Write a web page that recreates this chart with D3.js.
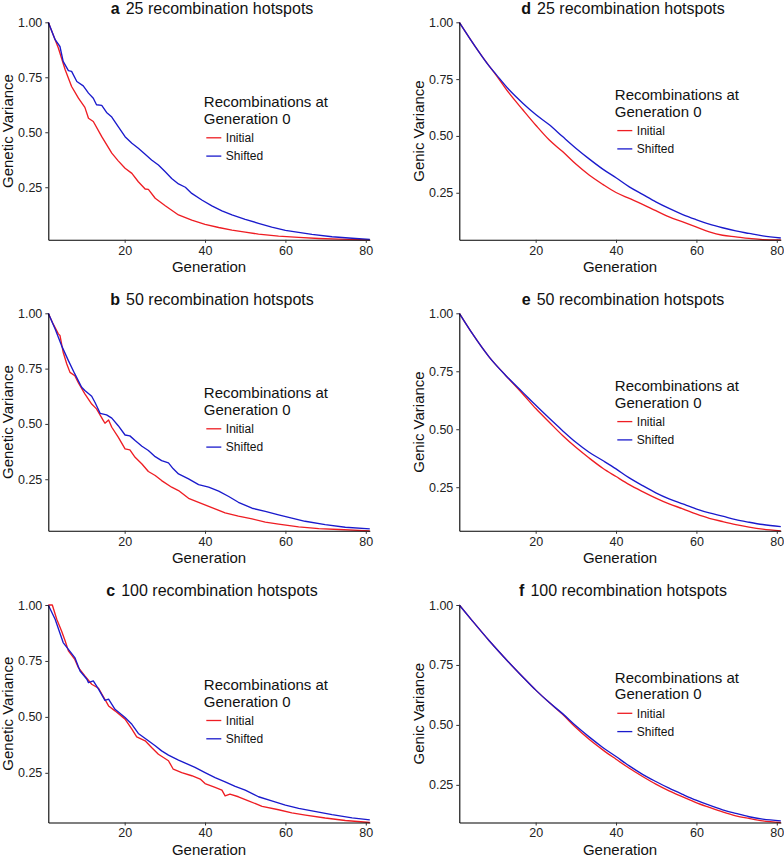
<!DOCTYPE html>
<html>
<head>
<meta charset="utf-8">
<script src="https://cdn.jsdelivr.net/npm/d3@7"></script>
<style>
  body { margin: 0; background: #fff; }
  svg { font-family: "Liberation Sans", Arial, sans-serif; }
</style>
</head>
<body>
<svg id="chart" width="784" height="857"></svg>
<script>
// values: [generation, variance]
var letters = ['a', 'b', 'c', 'd', 'e', 'f'];
var titles = ['25 recombination hotspots', '50 recombination hotspots', '100 recombination hotspots',
              '25 recombination hotspots', '50 recombination hotspots', '100 recombination hotspots'];
var y_labels = ['Genetic Variance', 'Genetic Variance', 'Genetic Variance',
                'Genic Variance', 'Genic Variance', 'Genic Variance'];
var x_ticks = [20, 40, 60, 80];
var y_ticks = [0.25, 0.5, 0.75, 1.0];
var legend_title = ['Recombinations at', 'Generation 0'];
var series_names = ['Initial', 'Shifted'];

var a_initial = [[1,1.0],[3.5,0.883],[5.2,0.784],[6.8,0.708],[8.5,0.655],[10.1,0.613],[11,0.564],[12.2,0.549],[14.3,0.48],[16.8,0.405],[18.4,0.37],[20.1,0.336],[21.8,0.313],[23.4,0.275],[25.1,0.242],[25.9,0.24],[27.6,0.2],[30.1,0.166],[33.4,0.124],[36.7,0.1],[40,0.081],[43.4,0.067],[46.7,0.055],[50,0.046],[53.3,0.037],[58.3,0.028],[63.3,0.022],[68.3,0.017],[73.3,0.014],[81,0.011]];
var a_shifted = [[1,1.0],[2.7,0.921],[3.9,0.89],[4.7,0.822],[6,0.78],[6.8,0.777],[8.1,0.731],[9.7,0.711],[11,0.678],[12.2,0.655],[13,0.625],[14.3,0.622],[15.5,0.59],[16.8,0.569],[18.4,0.526],[20.1,0.48],[21.8,0.45],[23.4,0.427],[25.1,0.40],[26.7,0.374],[28.4,0.351],[30.1,0.32],[31.7,0.29],[33.4,0.265],[35.1,0.25],[36.7,0.222],[39.2,0.192],[41.7,0.165],[44.2,0.143],[46.7,0.124],[50,0.104],[53.3,0.086],[56.6,0.069],[60,0.054],[63.3,0.045],[66.6,0.036],[71.6,0.025],[76.6,0.018],[81,0.013]];
var b_initial = [[1,1.0],[2.2,0.952],[3.5,0.907],[3.9,0.9],[4.7,0.824],[5.6,0.771],[6.4,0.733],[7.6,0.718],[8.5,0.685],[10.1,0.636],[11.8,0.59],[13,0.568],[14.7,0.515],[15.1,0.503],[16,0.518],[16.8,0.485],[18.4,0.44],[20.1,0.387],[21.3,0.383],[22.6,0.349],[24.3,0.319],[25.9,0.285],[27.6,0.267],[29.2,0.244],[31.7,0.214],[33.4,0.199],[35.9,0.164],[38.4,0.146],[41.7,0.122],[45,0.098],[48.3,0.083],[51.7,0.071],[55,0.056],[58.3,0.047],[63.3,0.035],[68.3,0.027],[73.3,0.023],[81,0.017]];
var b_shifted = [[1,1.0],[2.7,0.929],[4.3,0.854],[6,0.786],[7.6,0.726],[9.3,0.666],[10.1,0.651],[11.8,0.625],[12.6,0.598],[13.9,0.548],[15.5,0.541],[16.8,0.526],[18.4,0.492],[20.1,0.45],[21.3,0.446],[22.6,0.425],[24.3,0.399],[25.9,0.38],[27.6,0.352],[29.2,0.334],[30.9,0.324],[32.1,0.297],[33.4,0.274],[35.9,0.252],[38.4,0.226],[40.9,0.214],[43.4,0.196],[45.9,0.172],[48.3,0.146],[51.7,0.119],[55,0.105],[58.3,0.089],[61.6,0.074],[64.9,0.06],[69.9,0.045],[74.9,0.033],[81,0.026]];
var c_initial = [[1,1.0],[2,1.0],[3.1,0.936],[4.3,0.884],[5.2,0.839],[6,0.795],[7.6,0.757],[8.5,0.72],[10.1,0.683],[11.8,0.646],[13.5,0.628],[16,0.549],[17.6,0.527],[20.1,0.49],[21.8,0.445],[23,0.411],[25.1,0.393],[26.7,0.363],[28.4,0.333],[30.9,0.304],[32.1,0.266],[34.2,0.251],[36.7,0.237],[38.8,0.222],[40,0.202],[42.5,0.185],[44.2,0.173],[45,0.147],[46.2,0.155],[48.3,0.143],[50.8,0.125],[54.2,0.1],[58.3,0.085],[61.6,0.071],[65,0.061],[69.9,0.048],[74.9,0.037],[81,0.028]];
var c_shifted = [[1,1.0],[2.7,0.936],[4.7,0.832],[6,0.802],[7.6,0.765],[8.9,0.705],[10.6,0.668],[11,0.653],[12.2,0.661],[13.5,0.624],[15.1,0.574],[16,0.579],[17.6,0.534],[20.1,0.497],[21.8,0.467],[23.4,0.426],[25.9,0.393],[27.6,0.371],[29.2,0.348],[30.9,0.329],[33.4,0.307],[35.1,0.293],[37.5,0.274],[40,0.251],[42.5,0.229],[45,0.21],[47.5,0.189],[50,0.173],[53.3,0.143],[56.6,0.125],[60,0.106],[63.3,0.091],[66.6,0.08],[71.6,0.063],[76.6,0.049],[81,0.04]];
var d_initial = [[1,1.0],[5.1,0.89],[8.5,0.806],[10.1,0.769],[13.4,0.688],[16.8,0.615],[20.1,0.546],[23.4,0.482],[26.7,0.431],[30,0.376],[33.3,0.328],[36.7,0.287],[40,0.251],[43.3,0.225],[46.6,0.199],[49.9,0.171],[53.2,0.144],[56.6,0.122],[59.9,0.1],[63.2,0.078],[66.5,0.063],[69.8,0.056],[73.1,0.049],[76.5,0.044],[81,0.043]];
var d_shifted = [[1,1.0],[5.1,0.89],[8.5,0.806],[10.1,0.772],[13.4,0.703],[16.8,0.644],[20.1,0.593],[23.4,0.549],[26.7,0.497],[30,0.446],[33.3,0.399],[36.7,0.354],[40,0.316],[43.3,0.276],[46.6,0.243],[49.9,0.21],[53.2,0.181],[56.6,0.154],[59.9,0.132],[63.2,0.112],[66.5,0.096],[69.8,0.082],[73.1,0.071],[76.5,0.06],[81,0.051]];
var e_initial = [[1,1.0],[4.3,0.911],[8.5,0.81],[12.6,0.731],[16.8,0.652],[20.1,0.588],[23.4,0.53],[26.7,0.473],[30,0.422],[33.3,0.376],[36.7,0.332],[40,0.296],[43.3,0.261],[46.6,0.231],[49.9,0.203],[53.2,0.178],[56.6,0.157],[59.9,0.135],[63.2,0.116],[66.5,0.102],[69.8,0.089],[73.1,0.078],[76.5,0.069],[81,0.062]];
var e_shifted = [[1,1.0],[4.3,0.911],[8.5,0.81],[12.6,0.731],[16.8,0.659],[20.1,0.602],[23.4,0.547],[26.7,0.494],[30,0.444],[33.3,0.401],[36.7,0.365],[40,0.329],[43.3,0.29],[46.6,0.257],[49.9,0.226],[53.2,0.2],[56.6,0.178],[59.9,0.157],[63.2,0.139],[66.5,0.125],[69.8,0.11],[73.1,0.099],[76.5,0.089],[81,0.08]];
var f_initial = [[1,1.0],[4.3,0.933],[8.5,0.85],[12.6,0.774],[16.8,0.7],[20.1,0.644],[23.4,0.593],[26.7,0.544],[30,0.489],[33.3,0.44],[36.7,0.396],[40,0.357],[43.3,0.319],[46.6,0.285],[49.9,0.253],[53.2,0.225],[56.6,0.2],[59.9,0.176],[63.2,0.156],[66.5,0.137],[69.8,0.121],[73.1,0.11],[76.5,0.1],[81,0.093]];
var f_shifted = [[1,1.0],[4.3,0.933],[8.5,0.85],[12.6,0.774],[16.8,0.7],[20.1,0.644],[23.4,0.593],[26.7,0.547],[30,0.496],[33.3,0.45],[36.7,0.406],[40,0.368],[43.3,0.329],[46.6,0.294],[49.9,0.264],[53.2,0.236],[56.6,0.21],[59.9,0.186],[63.2,0.165],[66.5,0.146],[69.8,0.131],[73.1,0.117],[76.5,0.107],[81,0.1]];

var all_series = [[a_initial, a_shifted], [b_initial, b_shifted], [c_initial, c_shifted],
                  [d_initial, d_shifted], [e_initial, e_shifted], [f_initial, f_shifted]];

var colors = ['#ee1d23', '#1a1acc'];

var col_left = [48.3, 459.3];
var row_top = [22.3, 313.3, 605];
var plot_w = 321.5;
var plot_h = 217.5;

var svg = d3.select('#chart');

letters.forEach(function (letter, i) {
    var col = Math.floor(i / 3);
    var row = i % 3;
    var left = col_left[col];
    var top = row_top[row];
    var series = all_series[i];
    var smooth = col === 1;

    var y_min = d3.min(series, function (s) { return d3.min(s, function (d) { return d[1]; }); });

    var x = d3.scaleLinear().domain([1, 81]).range([0, plot_w]);
    var y = d3.scaleLinear().domain([y_min, 1]).range([plot_h, 0]);

    var g = svg.append('g').attr('transform', 'translate(' + left + ',' + top + ')');

    // lines
    var line = d3.line()
        .x(function (d) { return x(d[0]); })
        .y(function (d) { return y(d[1]); })
        .curve(smooth ? d3.curveMonotoneX : d3.curveLinear);

    series.forEach(function (s, k) {
        g.append('path')
            .datum(s)
            .attr('d', line)
            .attr('fill', 'none')
            .attr('stroke', colors[k])
            .attr('stroke-width', 1.35)
            .attr('stroke-linejoin', 'round');
    });

    // axes
    var x_axis = g.append('g')
        .attr('transform', 'translate(0,' + plot_h + ')')
        .call(d3.axisBottom(x).tickValues(x_ticks).tickSize(3).tickSizeOuter(0).tickPadding(3));
    var y_axis = g.append('g')
        .call(d3.axisLeft(y).tickValues(y_ticks).tickSize(3).tickSizeOuter(0).tickPadding(3)
            .tickFormat(d3.format('.2f')));

    [x_axis, y_axis].forEach(function (ax) {
        ax.select('.domain').attr('stroke', '#000').attr('stroke-width', 1.1);
        ax.selectAll('.tick line').attr('stroke', '#333');
        ax.selectAll('.tick text')
            .attr('fill', '#222')
            .style('font-size', '12.5px')
            .style('font-family', '"Liberation Sans", Arial, sans-serif');
    });

    // title
    var title = g.append('text')
        .attr('x', plot_w / 2 + 3)
        .attr('y', -8.8)
        .attr('text-anchor', 'middle')
        .attr('fill', '#111')
        .style('font-size', '16px');
    title.append('tspan').style('font-weight', 'bold').text(letter);
    title.append('tspan').attr('dx', 6).text(titles[i]);

    // axis titles
    g.append('text')
        .attr('x', plot_w / 2)
        .attr('y', plot_h + 32.5)
        .attr('text-anchor', 'middle')
        .attr('fill', '#111')
        .style('font-size', '15px')
        .text('Generation');

    g.append('text')
        .attr('transform', 'translate(-35.3,' + (plot_h / 2) + ') rotate(-90)')
        .attr('text-anchor', 'middle')
        .attr('fill', '#111')
        .style('font-size', '15px')
        .text(y_labels[i]);

    // legend
    var lg = g.append('g')
        .attr('transform', 'translate(155.5,' + (col === 0 ? 85 : 77.8) + ')');
    legend_title.forEach(function (t, k) {
        lg.append('text')
            .attr('x', 0)
            .attr('y', k * 16.7)
            .attr('fill', '#111')
            .style('font-size', '15px')
            .text(t);
    });
    series_names.forEach(function (name, k) {
        var cy = 30.5 + k * 18.3;
        lg.append('line')
            .attr('x1', 2.5).attr('x2', 17.5)
            .attr('y1', cy).attr('y2', cy)
            .attr('stroke', colors[k])
            .attr('stroke-width', 1.3);
        lg.append('text')
            .attr('x', 22)
            .attr('y', cy + 4.3)
            .attr('fill', '#111')
            .style('font-size', '12px')
            .text(name);
    });
});
</script>
</body>
</html>
